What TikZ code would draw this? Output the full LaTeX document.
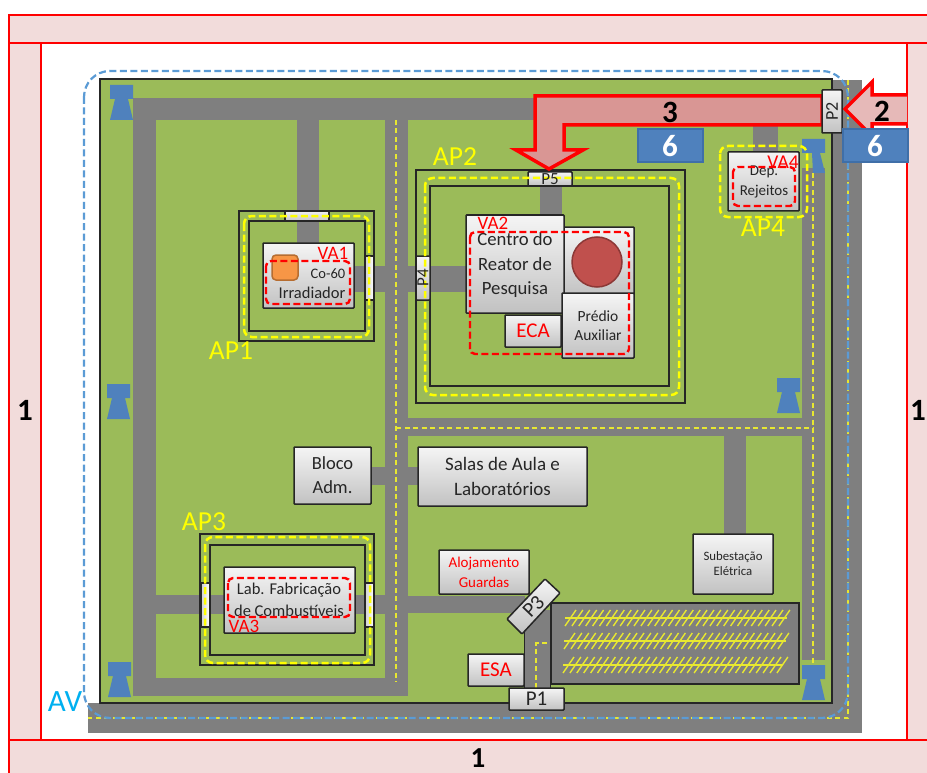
\documentclass[tikz,border=0pt]{standalone}
\usepackage{fontspec}
\setmainfont{Carlito}
\definecolor{bandpink}{HTML}{F2DCDB}
\definecolor{site}{HTML}{9BBB59}
\definecolor{road}{HTML}{7F7F7F}
\definecolor{towerblue}{HTML}{4F81BD}
\definecolor{towerdark}{HTML}{3F6FA8}
\definecolor{avblue}{HTML}{5B9BD5}
\definecolor{yel}{HTML}{FFFF00}
\definecolor{hatch}{HTML}{E8E830}
\definecolor{txt}{HTML}{262626}
\definecolor{arrowthree}{HTML}{D99694}
\definecolor{arrowtwo}{HTML}{E6B9B8}
\definecolor{reactorfill}{HTML}{C0504D}
\definecolor{reactoredge}{HTML}{8C3836}
\definecolor{orangefill}{HTML}{F79646}
\definecolor{orangeedge}{HTML}{B66D31}
\definecolor{avtext}{HTML}{00B0F0}
\newcommand\FS[1]{\fontsize{#1}{#1}\selectfont}
\newcommand\Bx[6]{%
  \path[bx] (#2,#3) rectangle (#4,#5);
  \node[lbl] (#1) at ({(#2+#4)/2},{(#3+#5)/2}) {#6};}
\newcommand\Door[5]{\path[#1] (#2,#3) rectangle (#4,#5);}
\newcommand\Tower[2]{\fill[towerblue] (#1,#2) -- ++(23,0) -- ++(0,14) -- ++(-5,0) -- ++(5,21) -- ++(-23,0) -- ++(5,-21) -- ++(-5,0) -- cycle;}
\tikzset{
  x=1pt,y=-1pt,
  band/.style={fill=bandpink,draw=red,line width=2.6pt},
  bx/.style={top color=white!92!gray,bottom color=black!24,draw=txt,line width=1.5pt,rounded corners=0.8pt},
  doorh/.style={top color=white!88!gray,bottom color=black!22,draw=txt,line width=1.2pt},
  doorv/.style={left color=black!18,right color=white,draw=txt,line width=1.2pt},
  lbl/.style={align=center,text=txt,inner sep=0pt},
  redlbl/.style={text=red,inner sep=0pt},
  yellbl/.style={text=yel,inner sep=0pt,font=\FS{27.5}},
  fence/.style={draw=txt,line width=1.4pt},
  ydash/.style={draw=yel,line width=2.5pt,dash pattern=on 7pt off 3.5pt,rounded corners=8pt},
  rdash/.style={draw=red,line width=2.4pt,dash pattern=on 7pt off 3.5pt,rounded corners=5pt},
  lane/.style={draw=hatch,line width=1.4pt,dash pattern=on 5pt off 3.5pt},
  arrowred/.style={draw=red,line width=3.5pt,miter limit=10},
  six/.style={fill=towerblue,draw=towerdark,line width=1.6pt},
  num/.style={inner sep=0pt,font=\bfseries\FS{31},text=black},
  park/.style={draw=hatch,line width=1.4pt},
}
\begin{document}
\begin{tikzpicture}
\useasboundingbox (0,0) rectangle (927,773);
\fill[white] (0,0) rectangle (927,773);
% outer bands
\path[band] (9,15) rectangle (935,43);
\path[band] (9,43) rectangle (41,740);
\path[band] (907,43) rectangle (935,740);
\path[band] (9,740) rectangle (935,785);
% perimeter road and site
\fill[road] (88,703) rectangle (862,733);
\fill[road] (832,80) rectangle (862,733);
\path[fill=site,draw=black!85,line width=1.8pt] (100,79) rectangle (832,703);
% inner roads
\fill[road] (133,98) rectangle (600,120);
\fill[road] (133,98) rectangle (156,696);
\fill[road] (133,678) rectangle (408,696);
\fill[road] (385,98) rectangle (408,696);
\fill[road] (802,168) rectangle (825,660);
\fill[road] (408,418) rectangle (802,436);
\fill[road] (724,436) rectangle (746,535);
\fill[road] (753,125) rectangle (778,152);
\fill[road] (297,120) rectangle (319,243);
\fill[road] (355,266) rectangle (466,292);
\fill[road] (540,186) rectangle (562,215);
\fill[road] (372,467) rectangle (418,485);
\fill[road] (156,595) rectangle (385,614);
\fill[road] (408,596) rectangle (525,613);
\fill[road] (524,610) rectangle (550,690);
\draw[black!85,line width=1pt] (524,612) -- (524,688) (550,612) -- (550,688);
% parking
\path[fill=road,draw=black!85,line width=1.5pt] (551,603) rectangle (799,684);
\foreach \yy/\xs/\xe in {618/565/787,641/564/786,665/563/783}{
  \draw[park] (\xs,\yy) -- (\xe,\yy);
  \foreach \k in {0,...,31}{
    \draw[park] ({\xs+\k*6.9},\yy+8) -- ({\xs+\k*6.9+11},\yy-8);
  }
}
% lane markings
\draw[lane] (396,120) -- (396,682);
\draw[lane] (396,428) -- (813,428);
\draw[lane] (813,173) -- (813,665);
\draw[lane] (848,80) -- (848,718) -- (88,718);
\draw[lane] (536,688) -- (536,643) -- (550,643);
% towers
\Tower{110}{85}
\Tower{107}{384}
\Tower{108}{662}
\fill[towerblue] (802,139) -- (825,139) -- (825,153) -- (820,153) -- (825,173) -- (813,173) -- (812,153) -- (802,153) -- cycle;
\Tower{777}{378}
\Tower{802}{665}
% AV perimeter
\draw[avblue,line width=2.2pt,dash pattern=on 7pt off 3.5pt,rounded corners=26pt] (84,71) rectangle (848,718);
% protected areas: fences
\draw[fence] (239,211) rectangle (374,341);
\draw[fence] (249,221) rectangle (365,331);
\draw[fence] (416,170) rectangle (685,403);
\draw[fence] (430,186) rectangle (669,386);
\draw[fence] (200,534) rectangle (374,665);
\draw[fence] (210,545) rectangle (365,655);
% doors
\Door{doorh}{285}{211}{329}{221}
\Door{doorv}{365}{256}{374}{300}
\Door{doorv}{201}{583}{210}{627}
\Door{doorv}{365}{583}{374}{627}
% P5, P4 boxes
\path[bx] (528,172) rectangle (572,186);
\path[bx] (416,256) rectangle (430,300);
% yellow dashed AP
\draw[ydash] (244,216) rectangle (369,337);
\draw[ydash] (425,178) rectangle (679,395);
\draw[ydash] (205,537) rectangle (370,663);
\draw[ydash] (720,146) rectangle (807,217);
\node[lbl] (pfive) at (550,179) {\FS{17}P5};
\node[lbl,rotate=90] (pfour) at (423,278) {\FS{17}P4};
% buildings
\Bx{irr}{263}{243}{354}{308}{}
\path[fill=orangefill,draw=orangeedge,line width=1.5pt,rounded corners=4pt] (272,255) rectangle (298,280);
\node[lbl] (coss) at (328,274) {\FS{14.5}Co-60};
\node[lbl] (irrt) at (312,293) {\FS{16.5}Irradiador};
\draw[rdash] (266,261) rectangle (350,304);
\node[redlbl] (vaone) at (333,253) {\FS{19}VA1};
% reactor
\Bx{reac}{530}{227}{634}{295}{}
\path[fill=reactorfill,draw=reactoredge,line width=1.5pt] (597,262) circle (25);
\Bx{centro}{466}{215}{564}{313}{}
\node[lbl] (centrot) at (515,265) {\FS{18.7}Centro do\\[10.5pt]\FS{18.7}Reator de\\[10.5pt]\FS{18.7}Pesquisa};
\node[redlbl] (vatwo) at (493,223) {\FS{19}VA2};
\Bx{eca}{505}{315}{561}{347}{\textcolor{red}{\FS{21}ECA}}
\Bx{predio}{562}{293}{634}{358}{\FS{15.5}Prédio\\[7pt]\FS{15.5}Auxiliar}
\draw[rdash] (470,232) rectangle (629,354);
% Rejeitos
\Bx{dep}{728}{152}{799}{211}{}
\node[lbl] (dept) at (764,182) {\FS{15}Dep.\\[6pt]\FS{15}Rejeitos};
\draw[rdash] (733,167) rectangle (795,206);
\node[redlbl] (vafour) at (783,162) {\FS{19.5}VA4};
% lab
\Bx{lab}{224}{567}{355}{633}{}
\node[lbl] (labt) at (289,600) {\FS{16.5}Lab. Fabricação\\[7pt]\FS{16.5}de Combustíveis};
\draw[rdash] (228,578) rectangle (350,617);
\node[redlbl] (vathree) at (244,626) {\FS{19}VA3};
% others
\Bx{bloco}{294}{447}{371}{504}{\FS{18.5}Bloco\\[10pt]\FS{18.5}Adm.}
\Bx{salas}{418}{447}{587}{506}{\FS{19}Salas de Aula e\\[10pt]\FS{19}Laboratórios}
\Bx{sube}{693}{534}{773}{594}{\FS{12.8}Subestação\\[3pt]\FS{12.8}Elétrica}
\Bx{aloj}{439}{550}{529}{594}{\textcolor{red}{\FS{15}Alojamento}\\[6pt]\textcolor{red}{\FS{15}Guardas}}
\Bx{esa}{468}{654}{524}{686}{\textcolor{red}{\FS{21}ESA}}
\Bx{pone}{509}{688}{564}{710}{\FS{21}P1}
\path[bx] (545,579) -- (560,593) -- (522,634) -- (507,619) -- cycle;
\node[lbl,rotate=46] (pthree) at (533.5,606.5) {\FS{21}P3};
% arrows
\path[fill=arrowtwo] (907,95) -- (872,95) -- (872,82) -- (845,109) -- (872,136) -- (872,124) -- (907,124) -- cycle;
\draw[arrowred] (907,95) -- (872,95) -- (872,82) -- (845,109) -- (872,136) -- (872,124) -- (907,124);
\path[fill=arrowthree,arrowred] (822,96) -- (535,96) -- (535,150) -- (516,150) -- (549,169) -- (583,150) -- (564,150) -- (564,125) -- (822,125) -- cycle;
\Bx{ptwo}{822}{90}{842}{133}{\rotatebox{90}{\FS{18}P2}}
% numbered boxes
\path[six] (638,129) rectangle (703,162);
\node[num,text=white] (sixa) at (670,146) {6};
\path[six] (843,129) rectangle (908,162);
\node[num,text=white] (sixb) at (875,146) {6};
\node[num] (three) at (670,112) {3};
\node[num] (two) at (882,111) {2};
\node[num] (oneL) at (25,410) {1};
\node[num] (oneR) at (918,410) {1};
\node[num,font=\bfseries\FS{29}] (oneB) at (478,758) {1};
% area labels
\node[yellbl] (apone) at (231,351) {AP1};
\node[yellbl] (aptwo) at (455,157) {AP2};
\node[yellbl] (apthree) at (204,522) {AP3};
\node[yellbl] (apfour) at (763,228) {AP4};
\node[inner sep=0pt,text=avtext] (av) at (65,702) {\FS{31}AV};
\end{tikzpicture}
\end{document}
